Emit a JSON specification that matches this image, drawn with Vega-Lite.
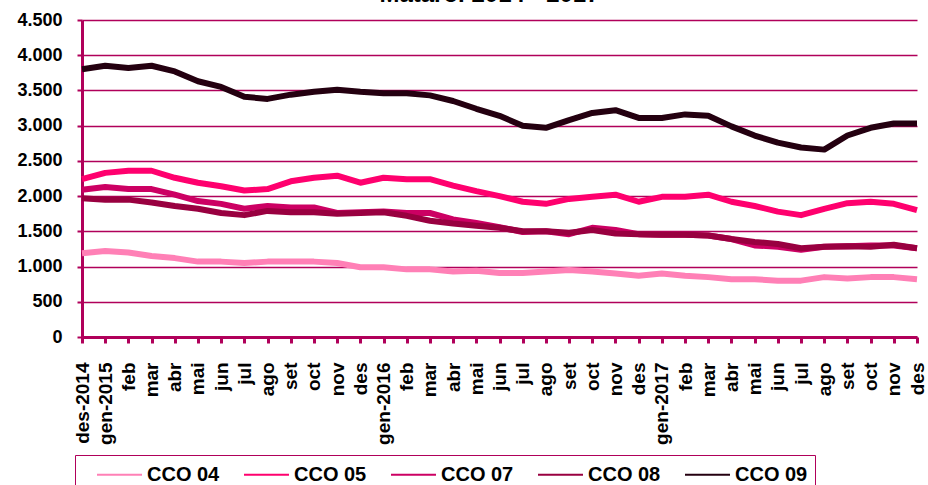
{
  "$schema": "https://vega.github.io/schema/vega-lite/v6.json",
  "autosize": {"type": "none"},
  "padding": {"left": 82, "top": 20, "right": 11, "bottom": 148},
  "width": 835,
  "height": 317,
  "background": "white",
  "config": {
    "view": {"stroke": null},
    "font": "Liberation Sans",
    "locale": {"number": {"decimal": ",", "thousands": ".", "grouping": [3], "currency": ["", "€"]}},
    "axis": {"labelFont": "Liberation Sans", "labelFontWeight": "bold", "labelColor": "#000000", "title": null}
  },
  "title": {"text": "Mataró. 2014 - 2017", "font": "Liberation Sans", "fontSize": 24, "fontWeight": "bold", "color": "#000000", "anchor": "middle", "baseline": "alphabetic", "offset": -15, "dx": -10},
  "data": {"values": [
{"m":"2014-12","s":"CCO 04","v":1190},{"m":"2015-01","s":"CCO 04","v":1220},{"m":"2015-02","s":"CCO 04","v":1200},{"m":"2015-03","s":"CCO 04","v":1150},{"m":"2015-04","s":"CCO 04","v":1120},{"m":"2015-05","s":"CCO 04","v":1070},{"m":"2015-06","s":"CCO 04","v":1070},{"m":"2015-07","s":"CCO 04","v":1050},{"m":"2015-08","s":"CCO 04","v":1070},{"m":"2015-09","s":"CCO 04","v":1070},{"m":"2015-10","s":"CCO 04","v":1070},{"m":"2015-11","s":"CCO 04","v":1050},{"m":"2015-12","s":"CCO 04","v":990},{"m":"2016-01","s":"CCO 04","v":990},{"m":"2016-02","s":"CCO 04","v":960},{"m":"2016-03","s":"CCO 04","v":960},{"m":"2016-04","s":"CCO 04","v":930},{"m":"2016-05","s":"CCO 04","v":940},{"m":"2016-06","s":"CCO 04","v":910},{"m":"2016-07","s":"CCO 04","v":910},{"m":"2016-08","s":"CCO 04","v":930},{"m":"2016-09","s":"CCO 04","v":950},{"m":"2016-10","s":"CCO 04","v":930},{"m":"2016-11","s":"CCO 04","v":900},{"m":"2016-12","s":"CCO 04","v":870},{"m":"2017-01","s":"CCO 04","v":900},{"m":"2017-02","s":"CCO 04","v":870},{"m":"2017-03","s":"CCO 04","v":850},{"m":"2017-04","s":"CCO 04","v":820},{"m":"2017-05","s":"CCO 04","v":820},{"m":"2017-06","s":"CCO 04","v":800},{"m":"2017-07","s":"CCO 04","v":800},{"m":"2017-08","s":"CCO 04","v":850},{"m":"2017-09","s":"CCO 04","v":830},{"m":"2017-10","s":"CCO 04","v":850},{"m":"2017-11","s":"CCO 04","v":850},{"m":"2017-12","s":"CCO 04","v":820},
{"m":"2014-12","s":"CCO 05","v":2240},{"m":"2015-01","s":"CCO 05","v":2330},{"m":"2015-02","s":"CCO 05","v":2360},{"m":"2015-03","s":"CCO 05","v":2360},{"m":"2015-04","s":"CCO 05","v":2260},{"m":"2015-05","s":"CCO 05","v":2190},{"m":"2015-06","s":"CCO 05","v":2140},{"m":"2015-07","s":"CCO 05","v":2080},{"m":"2015-08","s":"CCO 05","v":2100},{"m":"2015-09","s":"CCO 05","v":2210},{"m":"2015-10","s":"CCO 05","v":2260},{"m":"2015-11","s":"CCO 05","v":2290},{"m":"2015-12","s":"CCO 05","v":2190},{"m":"2016-01","s":"CCO 05","v":2260},{"m":"2016-02","s":"CCO 05","v":2240},{"m":"2016-03","s":"CCO 05","v":2240},{"m":"2016-04","s":"CCO 05","v":2150},{"m":"2016-05","s":"CCO 05","v":2070},{"m":"2016-06","s":"CCO 05","v":2000},{"m":"2016-07","s":"CCO 05","v":1920},{"m":"2016-08","s":"CCO 05","v":1890},{"m":"2016-09","s":"CCO 05","v":1960},{"m":"2016-10","s":"CCO 05","v":1990},{"m":"2016-11","s":"CCO 05","v":2020},{"m":"2016-12","s":"CCO 05","v":1920},{"m":"2017-01","s":"CCO 05","v":1990},{"m":"2017-02","s":"CCO 05","v":1990},{"m":"2017-03","s":"CCO 05","v":2020},{"m":"2017-04","s":"CCO 05","v":1920},{"m":"2017-05","s":"CCO 05","v":1860},{"m":"2017-06","s":"CCO 05","v":1780},{"m":"2017-07","s":"CCO 05","v":1730},{"m":"2017-08","s":"CCO 05","v":1820},{"m":"2017-09","s":"CCO 05","v":1900},{"m":"2017-10","s":"CCO 05","v":1920},{"m":"2017-11","s":"CCO 05","v":1890},{"m":"2017-12","s":"CCO 05","v":1800},
{"m":"2014-12","s":"CCO 07","v":2090},{"m":"2015-01","s":"CCO 07","v":2130},{"m":"2015-02","s":"CCO 07","v":2100},{"m":"2015-03","s":"CCO 07","v":2100},{"m":"2015-04","s":"CCO 07","v":2020},{"m":"2015-05","s":"CCO 07","v":1930},{"m":"2015-06","s":"CCO 07","v":1890},{"m":"2015-07","s":"CCO 07","v":1820},{"m":"2015-08","s":"CCO 07","v":1860},{"m":"2015-09","s":"CCO 07","v":1840},{"m":"2015-10","s":"CCO 07","v":1840},{"m":"2015-11","s":"CCO 07","v":1760},{"m":"2015-12","s":"CCO 07","v":1770},{"m":"2016-01","s":"CCO 07","v":1780},{"m":"2016-02","s":"CCO 07","v":1760},{"m":"2016-03","s":"CCO 07","v":1760},{"m":"2016-04","s":"CCO 07","v":1670},{"m":"2016-05","s":"CCO 07","v":1620},{"m":"2016-06","s":"CCO 07","v":1560},{"m":"2016-07","s":"CCO 07","v":1490},{"m":"2016-08","s":"CCO 07","v":1500},{"m":"2016-09","s":"CCO 07","v":1460},{"m":"2016-10","s":"CCO 07","v":1550},{"m":"2016-11","s":"CCO 07","v":1520},{"m":"2016-12","s":"CCO 07","v":1460},{"m":"2017-01","s":"CCO 07","v":1450},{"m":"2017-02","s":"CCO 07","v":1450},{"m":"2017-03","s":"CCO 07","v":1440},{"m":"2017-04","s":"CCO 07","v":1390},{"m":"2017-05","s":"CCO 07","v":1300},{"m":"2017-06","s":"CCO 07","v":1280},{"m":"2017-07","s":"CCO 07","v":1240},{"m":"2017-08","s":"CCO 07","v":1280},{"m":"2017-09","s":"CCO 07","v":1290},{"m":"2017-10","s":"CCO 07","v":1300},{"m":"2017-11","s":"CCO 07","v":1300},{"m":"2017-12","s":"CCO 07","v":1260},
{"m":"2014-12","s":"CCO 08","v":1970},{"m":"2015-01","s":"CCO 08","v":1950},{"m":"2015-02","s":"CCO 08","v":1950},{"m":"2015-03","s":"CCO 08","v":1910},{"m":"2015-04","s":"CCO 08","v":1860},{"m":"2015-05","s":"CCO 08","v":1820},{"m":"2015-06","s":"CCO 08","v":1760},{"m":"2015-07","s":"CCO 08","v":1730},{"m":"2015-08","s":"CCO 08","v":1790},{"m":"2015-09","s":"CCO 08","v":1770},{"m":"2015-10","s":"CCO 08","v":1770},{"m":"2015-11","s":"CCO 08","v":1750},{"m":"2015-12","s":"CCO 08","v":1760},{"m":"2016-01","s":"CCO 08","v":1770},{"m":"2016-02","s":"CCO 08","v":1720},{"m":"2016-03","s":"CCO 08","v":1650},{"m":"2016-04","s":"CCO 08","v":1610},{"m":"2016-05","s":"CCO 08","v":1580},{"m":"2016-06","s":"CCO 08","v":1550},{"m":"2016-07","s":"CCO 08","v":1500},{"m":"2016-08","s":"CCO 08","v":1500},{"m":"2016-09","s":"CCO 08","v":1480},{"m":"2016-10","s":"CCO 08","v":1520},{"m":"2016-11","s":"CCO 08","v":1470},{"m":"2016-12","s":"CCO 08","v":1460},{"m":"2017-01","s":"CCO 08","v":1450},{"m":"2017-02","s":"CCO 08","v":1450},{"m":"2017-03","s":"CCO 08","v":1440},{"m":"2017-04","s":"CCO 08","v":1390},{"m":"2017-05","s":"CCO 08","v":1350},{"m":"2017-06","s":"CCO 08","v":1320},{"m":"2017-07","s":"CCO 08","v":1260},{"m":"2017-08","s":"CCO 08","v":1280},{"m":"2017-09","s":"CCO 08","v":1290},{"m":"2017-10","s":"CCO 08","v":1280},{"m":"2017-11","s":"CCO 08","v":1310},{"m":"2017-12","s":"CCO 08","v":1260},
{"m":"2014-12","s":"CCO 09","v":3800},{"m":"2015-01","s":"CCO 09","v":3850},{"m":"2015-02","s":"CCO 09","v":3820},{"m":"2015-03","s":"CCO 09","v":3850},{"m":"2015-04","s":"CCO 09","v":3770},{"m":"2015-05","s":"CCO 09","v":3630},{"m":"2015-06","s":"CCO 09","v":3550},{"m":"2015-07","s":"CCO 09","v":3410},{"m":"2015-08","s":"CCO 09","v":3380},{"m":"2015-09","s":"CCO 09","v":3440},{"m":"2015-10","s":"CCO 09","v":3480},{"m":"2015-11","s":"CCO 09","v":3510},{"m":"2015-12","s":"CCO 09","v":3480},{"m":"2016-01","s":"CCO 09","v":3460},{"m":"2016-02","s":"CCO 09","v":3460},{"m":"2016-03","s":"CCO 09","v":3430},{"m":"2016-04","s":"CCO 09","v":3350},{"m":"2016-05","s":"CCO 09","v":3240},{"m":"2016-06","s":"CCO 09","v":3140},{"m":"2016-07","s":"CCO 09","v":3000},{"m":"2016-08","s":"CCO 09","v":2970},{"m":"2016-09","s":"CCO 09","v":3080},{"m":"2016-10","s":"CCO 09","v":3180},{"m":"2016-11","s":"CCO 09","v":3220},{"m":"2016-12","s":"CCO 09","v":3110},{"m":"2017-01","s":"CCO 09","v":3110},{"m":"2017-02","s":"CCO 09","v":3160},{"m":"2017-03","s":"CCO 09","v":3140},{"m":"2017-04","s":"CCO 09","v":2990},{"m":"2017-05","s":"CCO 09","v":2860},{"m":"2017-06","s":"CCO 09","v":2760},{"m":"2017-07","s":"CCO 09","v":2690},{"m":"2017-08","s":"CCO 09","v":2660},{"m":"2017-09","s":"CCO 09","v":2860},{"m":"2017-10","s":"CCO 09","v":2970},{"m":"2017-11","s":"CCO 09","v":3030},{"m":"2017-12","s":"CCO 09","v":3030}
  ]},
  "mark": {"type": "line", "strokeWidth": 6, "strokeJoin": "round"},
  "encoding": {
    "x": {
      "field": "m", "type": "ordinal", "sort": null,
      "scale": {"type": "point", "padding": 0},
      "axis": {
        "labelAngle": 270, "labelAlign": "right", "labelBaseline": "middle",
        "labelFontSize": 19, "labelPadding": 19,
        "labelExpr": "(['gen','feb','mar','abr','mai','jun','jul','ago','set','oct','nov','des'])[toNumber(slice(datum.value,5))-1] + ((slice(datum.value,5)=='01' || datum.value=='2014-12') ? '-' + slice(datum.value,0,4) : '')",
        "domainColor": "#B0005A", "domainWidth": 3,
        "tickColor": "#B0005A", "tickWidth": 3, "tickSize": 6,
        "grid": false, "labelOverlap": false
      }
    },
    "y": {
      "field": "v", "type": "quantitative",
      "scale": {"domain": [0, 4500], "nice": false},
      "axis": {
        "values": [0,500,1000,1500,2000,2500,3000,3500,4000,4500],
        "format": ",d", "labelFontSize": 18, "labelPadding": 15,
        "domainColor": "#B0005A", "domainWidth": 3,
        "tickColor": "#B0005A", "tickWidth": 2, "tickSize": 5,
        "grid": true, "gridColor": "#B0005A", "gridWidth": 1.3, "gridOpacity": 1
      }
    },
    "color": {
      "field": "s", "type": "nominal",
      "scale": {"domain": ["CCO 04","CCO 05","CCO 07","CCO 08","CCO 09"], "range": ["#FF80B6","#FF006E","#CC0063","#990040","#240010"]},
      "legend": {
        "orient": "none", "direction": "horizontal", "legendX": -7, "legendY": 435,
        "title": null, "symbolType": "M-2,0H2", "symbolSize": 506, "symbolStrokeWidth": 2,
        "labelFont": "Liberation Sans", "labelFontWeight": "bold", "labelFontSize": 20, "labelColor": "#000000",
        "labelOffset": 15, "columnPadding": 9, "padding": 7, "symbolOffset": 25,
        "strokeColor": "#B0005A", "fillColor": "white"
      }
    }
  }
}
